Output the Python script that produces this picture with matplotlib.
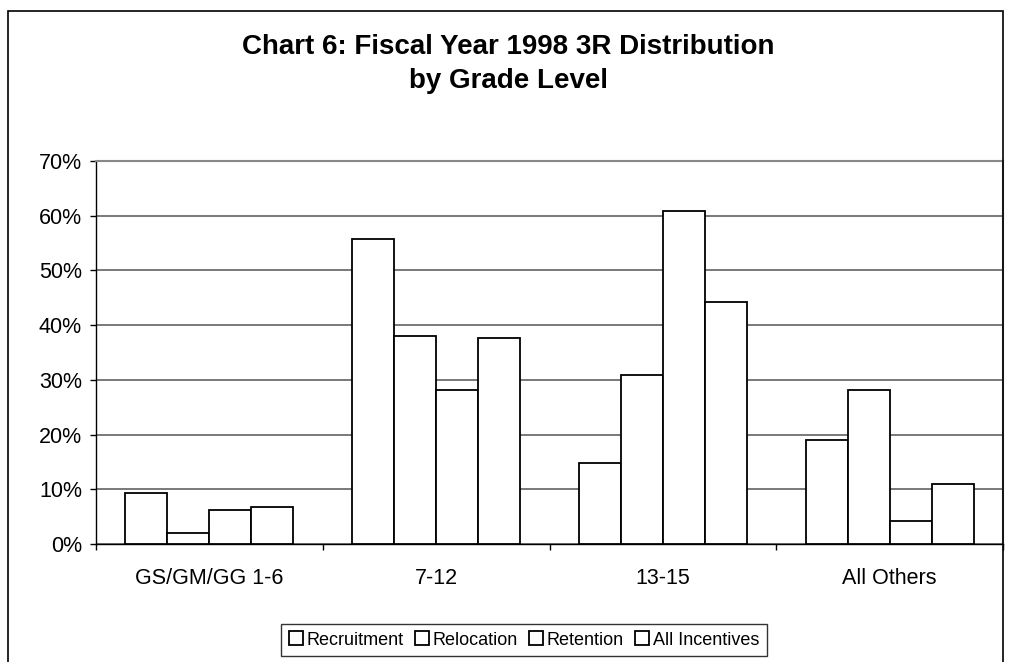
import numpy as np
import matplotlib.pyplot as plt
from matplotlib.patches import Rectangle
from matplotlib.ticker import FuncFormatter

plt.rcParams['font.family'] = ['Liberation Sans', 'DejaVu Sans']

grades = ['GS/GM/GG 1-6', '7-12', '13-15', 'All Others']
series = ['Recruitment', 'Relocation', 'Retention', 'All Incentives']
recruitment = [9.3, 55.8, 14.8, 19.0]
relocation = [2.0, 38.1, 30.8, 28.2]
retention = [6.2, 28.2, 60.9, 4.2]
all_incentives = [6.8, 37.7, 44.2, 11.0]

fig = plt.figure(figsize=(10.11, 6.62), dpi=100)
ax = fig.add_axes([96 / 1011, 1 - 544 / 662, (1003 - 96) / 1011, (544 - 161) / 662])

# outer chart border
fig.patches.append(Rectangle((8 / 1011, -0.02), (1003 - 8) / 1011, 1.02 - 11 / 662,
                             transform=fig.transFigure, fill=False,
                             edgecolor='black', linewidth=1.2))

x = np.arange(len(grades))
w = 0.185
for j, vals in enumerate([recruitment, relocation, retention, all_incentives]):
    ax.bar(x - 2 * w + w * (j + 0.5), vals, w, color='white', edgecolor='black',
           linewidth=1.3, label=series[j], zorder=3)

ax.set_xlim(-0.5, 3.5)
ax.set_ylim(0, 70)
ax.set_yticks(range(0, 71, 10))
ax.yaxis.set_major_formatter(FuncFormatter(lambda v, p: '%d%%' % v))
ax.yaxis.grid(True, color='#555555', linewidth=1.1)
ax.set_axisbelow(True)

ax.set_xticks([-0.5, 0.5, 1.5, 2.5, 3.5])
ax.set_xticklabels([])
ax.set_xticks(x, minor=True)
ax.set_xticklabels(grades, minor=True)
ax.tick_params(axis='x', which='minor', length=0, labelsize=15.5, pad=17)
ax.tick_params(axis='x', which='major', length=4, width=1, direction='out')
ax.tick_params(axis='y', length=4, width=1, labelsize=15.5, pad=6)

for s in ['top', 'right']:
    ax.spines[s].set_color('#888888')
    ax.spines[s].set_linewidth(1.5)
for s in ['left', 'bottom']:
    ax.spines[s].set_color('black')
    ax.spines[s].set_linewidth(1.0)

fig.text(0.503, 1 - 47 / 662, 'Chart 6: Fiscal Year 1998 3R Distribution',
         ha='center', va='center', fontsize=20, fontweight='bold')
fig.text(0.503, 1 - 81 / 662, 'by Grade Level',
         ha='center', va='center', fontsize=20, fontweight='bold')

leg = ax.legend(loc='center', bbox_to_anchor=(524 / 1011, 1 - 640 / 662),
                bbox_transform=fig.transFigure, ncol=4, fontsize=13,
                frameon=True, fancybox=False, edgecolor='black',
                handlelength=0.8, handleheight=0.8, handletextpad=0.2,
                columnspacing=0.6, borderpad=0.4)
leg.get_frame().set_linewidth(1.0)

plt.savefig('out.png', dpi=100)
plt.close()
